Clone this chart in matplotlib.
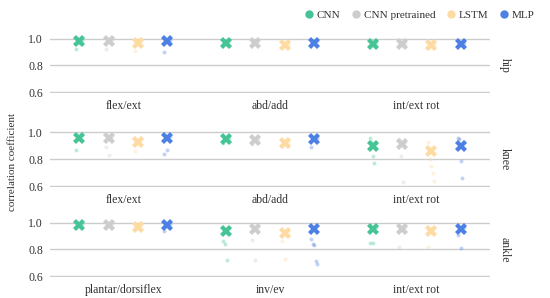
import numpy as np
import matplotlib
matplotlib.use('Agg')
import matplotlib.pyplot as plt
from matplotlib.lines import Line2D

plt.rcParams['font.family'] = ['Liberation Serif', 'DejaVu Serif']

models = ['CNN', 'CNN pretrained', 'LSTM', 'MLP']
colors = ['#45c496', '#cdcdcd', '#fddba3', '#4c80e4']
joints = ['hip', 'knee', 'ankle']
movements = [
    ['flex/ext', 'abd/add', 'int/ext rot'],
    ['flex/ext', 'abd/add', 'int/ext rot'],
    ['plantar/dorsiflex', 'inv/ev', 'int/ext rot'],
]

# mean correlation per joint (row) and movement (column)
cnn_mean = [[0.98, 0.97, 0.96], [0.96, 0.95, 0.90], [0.98, 0.94, 0.95]]
cnnpre_mean = [[0.98, 0.97, 0.96], [0.96, 0.94, 0.91], [0.98, 0.95, 0.95]]
lstm_mean = [[0.97, 0.95, 0.95], [0.93, 0.92, 0.86], [0.97, 0.92, 0.94]]
mlp_mean = [[0.98, 0.97, 0.96], [0.96, 0.95, 0.90], [0.98, 0.95, 0.95]]

# individual subject values
cnn_pts = [
    [[0.92, 0.97, 0.99], [0.96, 0.98], [0.95, 0.97]],
    [[0.87, 0.97, 0.98], [0.92, 0.96], [0.96, 0.93, 0.82, 0.77, 0.92]],
    [[0.97, 0.99], [0.86, 0.84, 0.72, 0.96], [0.85, 0.85, 0.97]],
]
cnnpre_pts = [
    [[0.92, 0.99], [0.96, 0.98], [0.95, 0.97]],
    [[0.89, 0.83, 0.97], [0.91, 0.95], [0.95, 0.82, 0.63, 0.93]],
    [[0.97, 0.99], [0.87, 0.72, 0.97], [0.82, 0.97]],
]
lstm_pts = [
    [[0.91, 0.98], [0.94, 0.96], [0.93, 0.96]],
    [[0.86, 0.95], [0.90, 0.93], [0.93, 0.80, 0.75, 0.70, 0.64]],
    [[0.96, 0.98], [0.86, 0.73, 0.94], [0.82, 0.96]],
]
mlp_pts = [
    [[0.90, 0.99], [0.96, 0.98], [0.95, 0.97]],
    [[0.84, 0.87, 0.97], [0.89, 0.96], [0.96, 0.95, 0.79, 0.66, 0.93]],
    [[0.94, 0.99], [0.88, 0.84, 0.83, 0.71, 0.69], [0.91, 0.81, 0.97]],
]

means = [cnn_mean, cnnpre_mean, lstm_mean, mlp_mean]
points = [cnn_pts, cnnpre_pts, lstm_pts, mlp_pts]
offsets = [-0.3, -0.1, 0.1, 0.3]

fig = plt.figure(figsize=(5.5, 2.98), dpi=100)
rows = [[0.091, 0.688, 0.80, 0.205], [0.091, 0.373, 0.80, 0.206], [0.091, 0.0715, 0.80, 0.204]]
fs = 8

for r, joint in enumerate(joints):
    ax = fig.add_axes(rows[r])
    for m in range(4):
        for c in range(3):
            vals = points[m][r][c]
            n = len(vals)
            jit = np.linspace(-0.02, 0.02, n) if n > 1 else [0]
            ax.scatter(c + offsets[m] + np.array(jit), vals, s=8, color=colors[m],
                       alpha=0.35, linewidths=0, zorder=2)
            ax.plot(c + offsets[m], means[m][r][c], marker='X', markersize=8.5,
                    color=colors[m], markeredgewidth=0, zorder=3)
    ax.set_xlim(-0.5, 2.5)
    ax.set_ylim(0.595, 1.05)
    ax.set_yticks([0.6, 0.8, 1.0])
    ax.set_yticklabels(['0.6', '0.8', '1.0'])
    ax.set_xticks([0, 1, 2])
    ax.set_xticklabels(movements[r])
    ax.tick_params(length=0, labelsize=fs + 0.5, colors='#333333', pad=5)
    ax.grid(axis='y', color='#cccccc', linewidth=1)
    ax.set_axisbelow(True)
    for s in ax.spines.values():
        s.set_visible(False)
    ax.text(1.02, 0.45, joint, transform=ax.transAxes, rotation=-90,
            va='center', ha='left', fontsize=fs + 0.5, color='#333333')

fig.text(0.022, 0.455, 'correlation coefficient', rotation=90, va='center',
         ha='center', fontsize=fs, color='#333333')

handles = [Line2D([], [], marker='o', linestyle='', color=col, markersize=5)
           for col in colors]
fig.legend(handles, models, loc='upper right', bbox_to_anchor=(0.99, 1.0), ncol=4,
           frameon=False, fontsize=fs, handletextpad=0.1, columnspacing=0.8,
           handlelength=1.2, labelcolor='#333333')

plt.savefig('out.png', dpi=100)
